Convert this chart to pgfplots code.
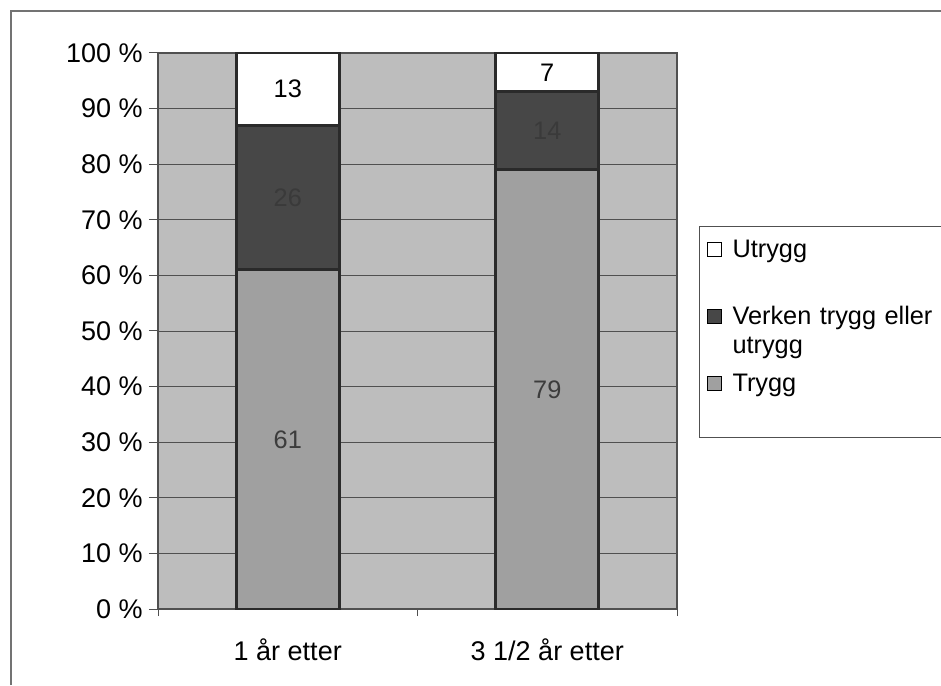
\documentclass[border=0pt]{standalone}
\usepackage{fontspec}
\setmainfont{Liberation Sans}
\usepackage{pgfplots}
\usepackage{pgfplotstable}
\pgfplotsset{compat=1.18}
\definecolor{bgc}{HTML}{BDBDBD}
\definecolor{tryggc}{HTML}{A0A0A0}
\definecolor{verkenc}{HTML}{474747}
\definecolor{gridc}{HTML}{505050}
\definecolor{edgec}{HTML}{2A2A2A}
\definecolor{labA}{HTML}{3C3C3C}
\definecolor{labB}{HTML}{3A3A3A}

\pgfplotstableread{
x trygg verken utrygg
0 61 26 13
1 79 14 7
}\datatab
\pgfplotstableread{
x y lab
0 30.5 61
1 39.5 79
}\labtabA
\pgfplotstableread{
x y lab
0 74 26
1 86 14
}\labtabB
\pgfplotstableread{
x y lab
0 93.5 13
1 96.5 7
}\labtabC

\pgfplotsset{
  common/.style={scale only axis, width=389.25pt, height=417pt,
    at={(118.5pt,57pt)}, anchor=south west,
    xmin=-0.5, xmax=1.5, ymin=0, ymax=100},
  sq/.style={legend image code/.code={\draw[##1, line width=0.75pt, draw=black] (0pt,0.75pt) rectangle (10.5pt,11.25pt);}},
}

\begin{document}
\begin{tikzpicture}[font=\fontsize{19pt}{21.75pt}\selectfont]
\useasboundingbox (0,0) rectangle (705.75pt,513.75pt);
\fill[white] (0,0) rectangle (705.75pt,513.75pt);
\draw[color=black!55, line width=1.1pt] (8.25pt,0pt) -- (8.25pt,505.5pt) -- (705.75pt,505.5pt);

\begin{axis}[common, ybar stacked, bar width=77.25pt,
  axis background/.style={fill=bgc},
  axis line style={draw=gridc, line width=0.9pt},
  ymajorgrids, grid style={draw=gridc, line width=0.7pt},
  ytick={0,10,...,100},
  /pgf/number format/assume math mode=true,
  yticklabel={\pgfmathprintnumber{\tick} \%},
  ytick pos=left,
  xtick={0,1}, xticklabels={1 år etter, 3 1/2 år etter},
  minor xtick={-0.5,0.5,1.5},
  xtick pos=bottom,
  tick align=outside,
  major tick length=6.75pt, minor tick length=5.25pt,
  tick style={draw=gridc, line width=0.75pt},
  major x tick style={draw=none},
  tick label style={font=\fontsize{20.25pt}{24pt}\selectfont},
  yticklabel style={inner sep=0pt, xshift=-4.5pt},
  xticklabel style={inner sep=0pt, yshift=-15pt},
  reverse legend,
  legend style={at={(1.0424,0.6888)}, anchor=north west, draw=gridc,
    line width=0.75pt, fill=white, inner xsep=5.25pt, inner ysep=3.75pt,
    column sep=8.25pt, row sep=0pt, cells={anchor=base west},
    nodes={inner sep=0pt, text width=170pt, align=left,
      text height=19.5pt, text depth=30.75pt}},
]
\addplot[sq, fill=tryggc, draw=edgec, line width=2.25pt] table[x=x,y=trygg]{\datatab};
\addlegendentry{Trygg}
\addplot[sq, fill=verkenc, draw=edgec, line width=2.25pt] table[x=x,y=verken]{\datatab};
\addlegendentry{Verken trygg eller\\utrygg}
\addplot[sq, fill=white, draw=edgec, line width=2.25pt] table[x=x,y=utrygg]{\datatab};
\addlegendentry{Utrygg}
\end{axis}

\begin{axis}[common, hide axis, clip=false]
\addplot[draw=none, mark=none, nodes near coords, point meta=explicit symbolic,
  every node near coord/.append style={anchor=center, text=labA}]
  table[x=x,y=y,meta=lab]{\labtabA};
\addplot[draw=none, mark=none, nodes near coords, point meta=explicit symbolic,
  every node near coord/.append style={anchor=center, text=labB}]
  table[x=x,y=y,meta=lab]{\labtabB};
\addplot[draw=none, mark=none, nodes near coords, point meta=explicit symbolic,
  every node near coord/.append style={anchor=center, text=black}]
  table[x=x,y=y,meta=lab]{\labtabC};
\end{axis}
\end{tikzpicture}
\end{document}
